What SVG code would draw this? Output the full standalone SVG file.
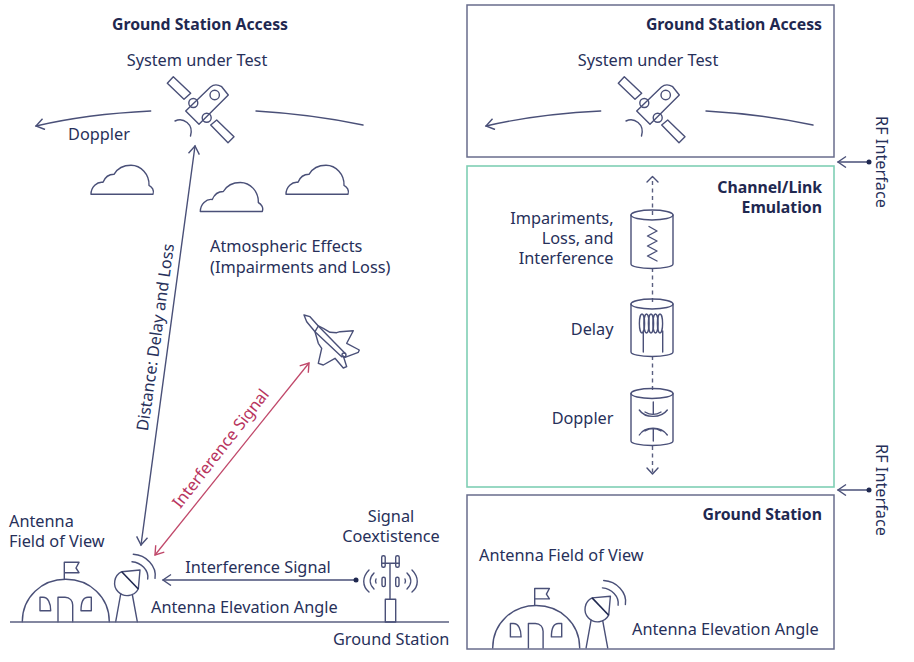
<svg xmlns="http://www.w3.org/2000/svg" width="914" height="662" viewBox="0 0 914 662">
<style>
text{font-family:"Noto Sans","Open Sans","Liberation Sans",sans-serif;font-size:16.300px;fill:#27305a}
.b{font-weight:700;fill:#1f2850;font-size:15.800px}
.m{text-anchor:middle}
.e{text-anchor:end}
.l{fill:none;stroke:#4a5078;stroke-width:1.4;stroke-linecap:round;stroke-linejoin:round}
.dk{stroke:#1f2850;stroke-width:1.6;fill:none}
.box{fill:none;stroke:#686c8c;stroke-width:1.5}
.dash{fill:none;stroke:#5a5f80;stroke-width:1.4;stroke-dasharray:4 3.5}
.red{fill:none;stroke:#c0486a;stroke-width:1.3}
</style>
<defs>
<marker id="a" markerWidth="14" markerHeight="14" refX="10" refY="6" orient="auto-start-reverse" markerUnits="userSpaceOnUse"><path d="M2,0.5 L10,6 L2,11.500" fill="none" stroke="#4a5078" stroke-width="1.4"/></marker>
<marker id="ar" markerWidth="14" markerHeight="14" refX="10" refY="6" orient="auto-start-reverse" markerUnits="userSpaceOnUse"><path d="M2,0.5 L10,6 L2,11.500" fill="none" stroke="#c0486a" stroke-width="1.4"/></marker>
<path id="cloud" class="l" d="M0,0 H62 C63.500,-4 61,-7.500 58,-9 C58.500,-20 50,-29 40,-29 C32,-29 26,-25 23,-20 C18,-20 14,-17 12,-12 C6,-13 0,-7 0,0Z"/>
<g id="sat">
<path class="l" d="M185.700,111 L199,124.300 L228.300,95 L221.700,86.700 C218,84.500 213.500,84.500 210.500,87Z"/>
<path class="l" d="M167.300,83.300 L173.300,76.700 L190.700,93.300 L184,99.300Z"/>
<path class="l" d="M210.700,125 L216.700,120 L234,136.700 L228,142.700Z"/>
<circle class="l" cx="193.300" cy="103" r="4.500"/><circle class="l" cx="206.700" cy="117.700" r="4.500"/><circle class="l" cx="214.700" cy="95" r="4.700"/>
<path class="l" d="M175,121 C183,117 194,124 190.500,136"/>
</g>
<g id="base">
<path class="l" d="M22.300,621.700 C22.300,597 42,579.300 65.800,579.300 C89.600,579.300 109.300,597 109.300,621.700"/>
<path class="l" d="M64.300,579 V562.300 H79 L76,568 L79,572.700 H64.300"/>
<path class="l" d="M58,621.700 V597.300 H65 C70,597.300 72.700,601 72.700,605 V621.700"/>
<path class="l" d="M40,597.300 H43 C48,597.300 50.700,603 50.700,610.700 H40Z"/>
<path class="l" d="M91.300,597.300 H88 C83,597.300 81,603 81,610.700 H91.300Z"/>
<path class="l" d="M115.700,621.700 L120.700,594 M137.300,621.700 L132.300,594.500"/>
<path class="l" d="M121.700,571.700 A12.600,12.600 0 1 0 138.300,589 L140,570 Z"/>
<path class="dk" d="M121.700,571.700 L138.300,589"/>
<path class="l" d="M133.300,554.300 C146,555 157,566 155,578.300 M132,561.700 C141,562.500 149,570 147.700,579"/>
</g>
</defs>

<g id="connectors">
<path class="l" d="M36,126 C70,118 110,113 150.700,111" marker-start="url(#a)"/>
<path class="l" d="M256,111 C290,113 330,118 363,125"/>
<path class="l" d="M486,126 C520,118 560,113 600.700,111" marker-start="url(#a)"/>
<path class="l" d="M706,111 C740,113 780,118 813,125"/>
<path class="l" d="M141,545 L195,146" marker-start="url(#a)" marker-end="url(#a)"/>
<path class="red" d="M155,555 L309,363" marker-start="url(#ar)" marker-end="url(#ar)"/>
<path class="l" d="M356,580 H163" marker-end="url(#a)"/>
<circle cx="356" cy="580" r="2.500" fill="#1f2850"/>
<path class="dash" d="M652.500,215 V177"/>
<path class="l" d="M647,182 L652.500,176.500 L658,182"/>
<path class="dash" d="M652.500,268 V303"/>
<path class="dash" d="M652.500,356 V393"/>
<path class="dash" d="M652.500,446 V474"/>
<path class="l" d="M647,468 L652.500,474 L658,468"/>
<path class="l" d="M869,162 H838" marker-end="url(#a)"/>
<circle cx="869" cy="162" r="2.500" fill="#1f2850"/>
<path class="l" d="M869,490 H838" marker-end="url(#a)"/>
<circle cx="869" cy="490" r="2.500" fill="#1f2850"/>
</g>

<g id="left-labels">
<text class="b m" x="200" y="30">Ground Station Access</text>
<text class="m" x="197" y="66">System under Test</text>
<text x="68" y="140">Doppler</text>
<text x="210" y="252">Atmospheric Effects</text>
<text x="210" y="273">(Impairments and Loss)</text>
<text class="m" transform="translate(161,338) rotate(-82)">Distance: Delay and Loss</text>
<text class="m" transform="translate(225,452) rotate(-52)" style="fill:#b8345e">Interference Signal</text>
<text x="9" y="527">Antenna</text>
<text x="9" y="547">Field of View</text>
<text class="m" x="391" y="522">Signal</text>
<text class="m" x="391" y="542">Coextistence</text>
<text class="m" x="258" y="573">Interference Signal</text>
<text x="151" y="613">Antenna Elevation Angle</text>
<text x="333" y="645">Ground Station</text>
</g>

<g id="clouds"><use href="#cloud" x="91" y="194.300"/><use href="#cloud" x="200.300" y="211.500"/><use href="#cloud" x="286" y="194.300"/></g>
<g id="satellite-left"><use href="#sat"/></g>
<g id="jet"><path class="l" d="M304,315 L310,316.700 L318.300,326 L323.300,328.300 L330,332.300 L336.700,332.700 L340,331.700 L353.300,330.700 L346.700,343.300 L359.300,350 L358.300,352.300 L345,357.300 L343.300,356 L346.700,366.700 L343.300,368 L335,358.300 L323.300,365 L318.300,363.300 L321.700,348.300 L318.300,343.300 L315,331.700 L306.700,321.700Z"/><path class="l" d="M315,331.700 L318.300,326 M315,331.700 L341.700,356.700 M318.300,326 L345,353.300"/><circle class="l" cx="344" cy="355" r="2"/></g>
<g id="ground-left"><use href="#base"/><path d="M10,622 H449" stroke="#5a5f80" stroke-width="1.500"/></g>
<g id="tower">
<path class="l" d="M385.300,599.300 H395.700 V622 H385.300Z M390,599 V563.300 M381.700,563.300 H399.300"/>
<rect class="l" x="381.700" y="555.700" width="3.500" height="11.500" rx="1.500"/><rect class="l" x="395.700" y="555.700" width="3.500" height="11.500" rx="1.500"/>
<rect class="l" x="382" y="577.300" width="3.300" height="9.300" rx="1.500"/><rect class="l" x="395.700" y="577.300" width="3.300" height="9.300" rx="1.500"/>
<path class="l" d="M369,570 C362,577 362,586 369,592 M374,573 C369,578 369,584 374,589 M376,579 C375.500,580 375.500,582 376,583 M412,570 C419,577 419,586 412,592 M407,573 C412,578 412,584 407,589 M405,579 C405.500,580 405.500,582 405,583"/>
</g>

<g id="box-access">
<rect class="box" x="467" y="5" width="367" height="152"/>
<text class="b e" x="822" y="30">Ground Station Access</text>
<text class="m" x="648" y="66">System under Test</text>
<use href="#sat" x="451"/>
</g>
<g id="box-channel">
<rect x="467" y="166" width="367" height="321" fill="none" stroke="#7fcfb4" stroke-width="1.600"/>
<text class="b e" x="822" y="193">Channel/Link</text>
<text class="b e" x="822" y="213">Emulation</text>
<text class="e" x="613.500" y="224">Impariments,</text>
<text class="e" x="613.500" y="244">Loss, and</text>
<text class="e" x="613.500" y="264">Interference</text>
<text class="e" x="613.500" y="335">Delay</text>
<text class="e" x="613.500" y="424">Doppler</text>
</g>
<g id="cyl-impairments">
<ellipse class="l" cx="652" cy="215" rx="21" ry="5"/>
<path class="l" d="M631,215 V264 C631,266.500 640,268.500 652,268.500 C664,268.500 673,266.500 673,264 V215"/>
<path class="l" d="M649,226.500 L657,231 L647.500,236 L657,241 L647.500,246 L657,251 L647.500,256 L657,261"/>
</g>
<g id="cyl-delay">
<ellipse class="l" cx="652" cy="304" rx="21" ry="5"/>
<path class="l" d="M631,304 V352 C631,354.500 640,356.500 652,356.500 C664,356.500 673,354.500 673,352 V304"/>
<path class="l" d="M643.300,352 V331 M662.700,352 V331"/>
<ellipse class="l" cx="642" cy="323.500" rx="2.600" ry="9.500"/><ellipse class="l" cx="646.500" cy="323.500" rx="2.600" ry="9.500"/><ellipse class="l" cx="651" cy="323.500" rx="2.600" ry="9.500"/><ellipse class="l" cx="655.500" cy="323.500" rx="2.600" ry="9.500"/><ellipse class="l" cx="660" cy="323.500" rx="2.600" ry="9.500"/>
</g>
<g id="cyl-doppler">
<ellipse class="l" cx="652" cy="393.500" rx="21" ry="5"/>
<path class="l" d="M631,393.500 V441 C631,443.500 640,445.500 652,445.500 C664,445.500 673,443.500 673,441 V393.500"/>
<path class="l" d="M639.300,410 C645,418.500 661,418.500 667.300,410 M645,412 C650,415 656,415 661,412 M653.300,402 V414"/>
<path class="l" d="M639.300,435 C645,426 661,426 667.300,435 M645,431 C650,428 656,428 661,431 M653.300,429 V441"/>
</g>
<g id="box-ground">
<rect class="box" x="467" y="495" width="367" height="154"/>
<text class="b e" x="822" y="520">Ground Station</text>
<text x="479" y="561">Antenna Field of View</text>
<text x="632" y="635">Antenna Elevation Angle</text>
<use href="#base" x="470.400" y="26.200"/>
</g>
<g id="rf-labels">
<text class="m" transform="translate(876,162) rotate(90)">RF Interface</text>
<text class="m" transform="translate(876,490) rotate(90)">RF Interface</text>
</g>
</svg>
